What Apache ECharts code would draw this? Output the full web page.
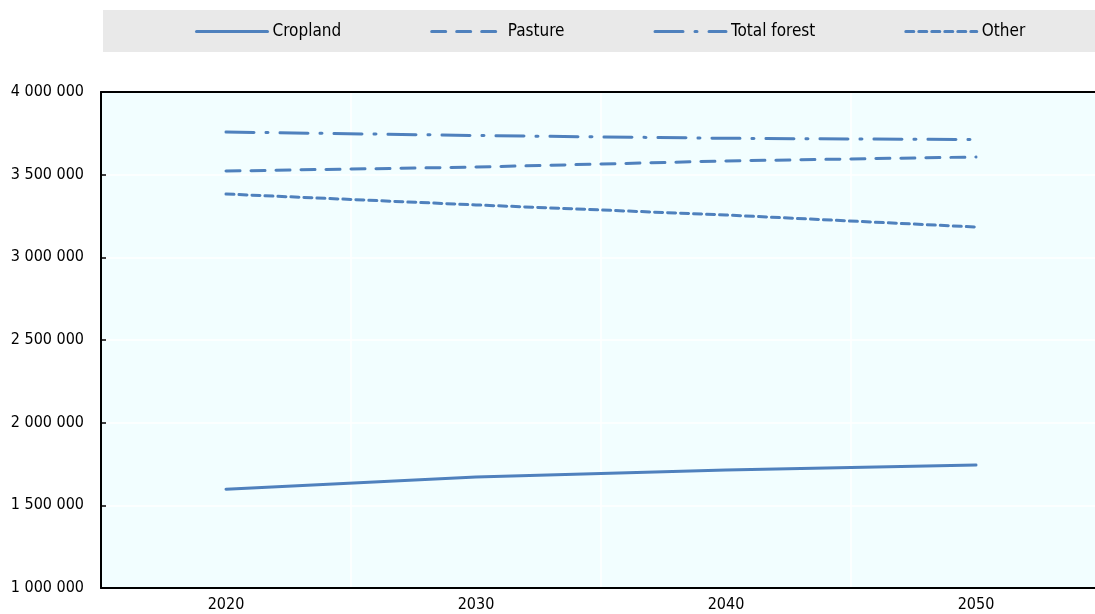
<!DOCTYPE html>
<html>
<head>
<meta charset="utf-8">
<script src="https://cdn.jsdelivr.net/npm/echarts@6/dist/echarts.min.js"></script>
<style>
  html, body { margin: 0; padding: 0; background: #fff; }
  #chart { width: 1095px; height: 614px; }
</style>
</head>
<body>
<div id="chart"></div>
<script>
// data
const years = ['2020', '2030', '2040', '2050'];
const cropland = [1597000, 1671000, 1714000, 1744000];
const pasture = [3522000, 3546000, 3583000, 3607000];
const totalForest = [3758000, 3737000, 3720000, 3712000];
const other = [3383000, 3317000, 3256000, 3183000];
const seriesNames = ['Cropland', 'Pasture', 'Total forest', 'Other'];

const FONT = '"DejaVu Sans Condensed", "Liberation Sans Narrow", "Arial Narrow", sans-serif';
const BLUE = '#4F81BD';

// dash styles per series
const dashTypes = ['solid', [14, 11], [28, 12, 2, 12], [8, 5]];
const seriesData = [cropland, pasture, totalForest, other];

const chart = echarts.init(document.getElementById('chart'));

const option = {
    animation: false,
    graphic: [{
        type: 'rect',
        left: 103,
        top: 10,
        shape: { width: 992, height: 42 },
        style: { fill: '#E9E9E9' },
        z: -1
    }],
    legend: {
        left: 195,
        top: 23,
        padding: 0,
        itemWidth: 71,
        itemHeight: 16,
        itemGap: 89,
        itemStyle: { opacity: 0 },
        lineStyle: { width: 3 },
        textStyle: { fontFamily: FONT, fontSize: 17, color: '#000' },
        data: seriesNames
    },
    grid: {
        left: 101,
        top: 92,
        right: -6,
        bottom: 26,
        outerBoundsMode: 'none',
        show: true,
        backgroundColor: '#F2FEFF',
        borderWidth: 0
    },
    xAxis: [{
        type: 'category',
        data: years,
        boundaryGap: true,
        axisLine: { lineStyle: { color: '#000', width: 2 } },
        axisTick: { inside: true, length: 5, lineStyle: { color: '#000', width: 1.5 } },
        axisLabel: { fontFamily: FONT, fontSize: 16, color: '#000', margin: 9 },
        splitLine: { show: true, lineStyle: { color: '#fff', width: 1.5 } }
    }, {
        // top border of the plot area
        type: 'category',
        data: years,
        position: 'top',
        axisLine: { show: true, lineStyle: { color: '#000', width: 2 } },
        axisTick: { show: false },
        axisLabel: { show: false },
        splitLine: { show: false },
        z: 10
    }],
    yAxis: {
        type: 'value',
        min: 1000000,
        max: 4000000,
        interval: 500000,
        axisLine: { show: true, lineStyle: { color: '#000', width: 2 } },
        axisTick: { show: true, inside: true, length: 5, lineStyle: { color: '#000', width: 1.5 } },
        axisLabel: {
            fontFamily: FONT, fontSize: 16, color: '#000', margin: 17,
            formatter: v => String(v).replace(/\B(?=(\d{3})+(?!\d))/g, ' ')
        },
        splitLine: { show: true, lineStyle: { color: '#fff', width: 1.5 } }
    },
    series: seriesNames.map((name, i) => ({
        name: name,
        type: 'line',
        data: seriesData[i],
        symbol: 'none',
        itemStyle: { color: BLUE },
        lineStyle: { color: BLUE, width: 3, type: dashTypes[i], cap: 'round' }
    }))
};

chart.setOption(option);
</script>
</body>
</html>
